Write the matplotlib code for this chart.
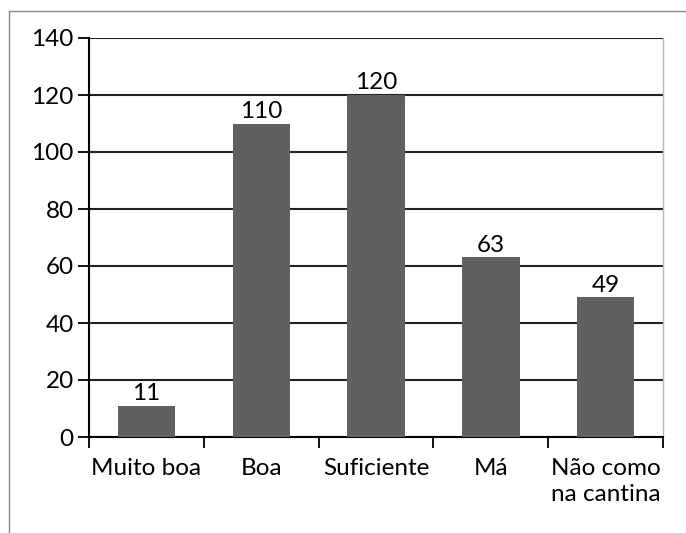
import matplotlib
matplotlib.use("Agg")
import matplotlib.pyplot as plt
from matplotlib.lines import Line2D
import numpy as np

categories = ["Muito boa", "Boa", "Suficiente", "Má", "Não como\nna cantina"]
values = [11, 110, 120, 63, 49]
yticks = [0, 20, 40, 60, 80, 100, 120, 140]

plt.rcParams['font.family'] = ['Lato', 'DejaVu Sans']
fs = 17.5

fig = plt.figure(figsize=(6.86, 5.33), dpi=100)
ax = fig.add_axes([89/686, 1-437/533, (663-89)/686, (437-38)/533])

x = np.arange(len(categories))
bars = ax.bar(x, values, width=0.5, color="#606060", zorder=3)
for xi, v in zip(x, values):
    ax.text(xi, v + 0.6, str(v), ha="center", va="bottom", fontsize=fs, color="black", zorder=4)

ax.set_xlim(-0.5, len(categories) - 0.5)
ax.set_ylim(0, 140)
ax.set_yticks(yticks)
ax.set_yticklabels([str(t) for t in yticks], fontsize=fs)
ax.set_xticks(x)
ax.set_xticklabels(categories, fontsize=fs, linespacing=1.3)
ax.set_xticks(np.arange(len(categories) + 1) - 0.5, minor=True)
ax.tick_params(axis="x", which="major", length=0, pad=15)
ax.tick_params(axis="x", which="minor", length=8, width=1.3, direction="out", color="black")
ax.tick_params(axis="y", length=8, width=1.3, direction="out", pad=3, color="black")

ax.yaxis.grid(True, color="#222222", linewidth=1.5, zorder=1)
ax.set_axisbelow(True)

ax.spines["top"].set_visible(False)
ax.spines["right"].set_color("#bbbbbb")
ax.spines["right"].set_linewidth(1)
ax.spines["left"].set_linewidth(1.5)
ax.spines["bottom"].set_linewidth(1.5)

# outer frame
fig.add_artist(Line2D([9/686, 1], [1-11/533, 1-11/533], transform=fig.transFigure, color="#888888", linewidth=1))
fig.add_artist(Line2D([9/686, 9/686], [0, 1-11/533], transform=fig.transFigure, color="#888888", linewidth=1))

fig.savefig("out.png", dpi=100)
